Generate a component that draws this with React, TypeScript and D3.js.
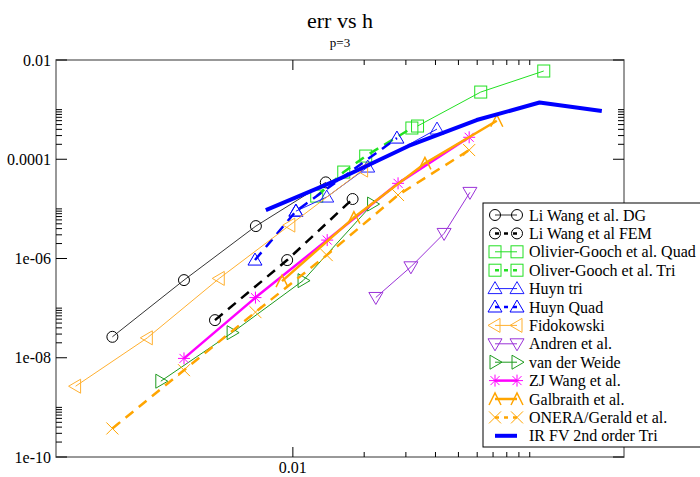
import React from "react";
import * as d3 from "d3";

const W = 700;
const H = 477;

const title = "err vs h";
const subtitle = "p=3";

const xDomain = [0.001, 0.25];
const yDomain = [1e-10, 0.01];
const xMajorTicks = [0.01];
const xMajorLabels = ["0.01"];
const xMinorTicks = [0.02, 0.03, 0.04, 0.05, 0.06, 0.07, 0.08, 0.09, 0.1];
const yMajorTicks = [1e-2, 1e-4, 1e-6, 1e-8, 1e-10];
const yMajorLabels = ["0.01", "0.0001", "1e-06", "1e-08", "1e-10"];
const yMinorBases = [1e-10, 1e-8, 1e-6, 1e-4];
const yMinorMult = [2, 3, 4, 5, 6, 7, 8, 9, 10];

// data: [h, err]
const liWangDG = [[0.00173, 2.64e-8], [0.00347, 3.67e-7], [0.00698, 4.5e-6], [0.01377, 3.42e-5]];
const liWangFEM = [[0.00469, 5.73e-8], [0.00946, 9.3e-7], [0.01787, 1.58e-5]];
const ogQuad = [[0.0336, 4.67e-4], [0.0621, 2.26e-3], [0.1146, 6.0e-3]];
const ogTri = [[0.01261, 1.81e-5], [0.0164, 5.52e-5], [0.0203, 1.16e-4], [0.0318, 4.26e-4]];
const huynTri = [[0.0103, 9.0e-6], [0.0139, 1.73e-5], [0.0207, 6.96e-5], [0.0406, 4.06e-4]];
const huynQuad = [[0.00692, 9.3e-7], [0.0103, 9.0e-6], [0.0275, 2.67e-4]];
const fidokowski = [[0.00121, 2.67e-9], [0.00243, 2.52e-8], [0.00489, 3.97e-7], [0.00971, 4.71e-6], [0.0197, 6.05e-5]];
const andren = [[0.0224, 1.64e-7], [0.0315, 6.8e-7], [0.0435, 3.2e-6], [0.0559, 2.15e-5]];
const vanDerWeide = [[0.00277, 3.37e-9], [0.00554, 3.2e-8], [0.01104, 3.58e-7], [0.0217, 1.25e-5]];
const zjWang = [[0.00347, 9.7e-9], [0.00695, 1.63e-7], [0.01396, 2.35e-6], [0.0278, 3.27e-5], [0.0555, 2.77e-4]];
const galbraith = [[0.009, 3.5e-7], [0.0181, 6.68e-6], [0.0361, 8.26e-5], [0.0726, 5.97e-4]];
const onera = [[0.00173, 3.76e-10], [0.00347, 5.62e-9], [0.00695, 8.3e-8], [0.0139, 1.17e-6], [0.0278, 1.9e-5], [0.0555, 1.53e-4]];
const irfv = [[0.00769, 9.46e-6], [0.01535, 3.81e-5], [0.0308, 1.85e-4], [0.0597, 6.17e-4], [0.110, 1.39e-3], [0.2015, 9.37e-4]];

type Series = {
  name: string;
  data: number[][];
  color: string;
  width: number;
  dash?: string;
  marker: string | null;
};

const series: Series[] = [
  { name: "Li Wang et al. DG", data: liWangDG, color: "#000000", width: 0.8, marker: "circle" },
  { name: "Li Wang et al FEM", data: liWangFEM, color: "#000000", width: 2.5, dash: "10,7", marker: "circle" },
  { name: "Olivier-Gooch et al. Quad", data: ogQuad, color: "#22e022", width: 1, marker: "square" },
  { name: "Oliver-Gooch et al. Tri", data: ogTri, color: "#22e022", width: 2.5, dash: "10,7", marker: "square" },
  { name: "Huyn tri", data: huynTri, color: "#2020ff", width: 1, marker: "triUp" },
  { name: "Huyn Quad", data: huynQuad, color: "#0000ff", width: 2.5, dash: "10,7", marker: "triUp" },
  { name: "Fidokowski", data: fidokowski, color: "#ffb030", width: 1, marker: "triLeft" },
  { name: "Andren et al.", data: andren, color: "#9a32d8", width: 1, marker: "triDown" },
  { name: "van der Weide", data: vanDerWeide, color: "#1e9a1e", width: 1, marker: "triRight" },
  { name: "ZJ Wang et al.", data: zjWang, color: "#ff00ff", width: 2.5, marker: "star" },
  { name: "Galbraith et al.", data: galbraith, color: "#ffa500", width: 2.5, marker: "caret" },
  { name: "ONERA/Gerald et al.", data: onera, color: "#ffa500", width: 2.5, dash: "10,7", marker: "cross" },
  { name: "IR FV 2nd order Tri", data: irfv, color: "#0000ff", width: 4, marker: null },
];

const plot = { left: 56, right: 624, top: 60, bottom: 457 };

const xScale = d3.scaleLog().domain(xDomain).range([plot.left, plot.right]);
const yScale = d3.scaleLog().domain(yDomain).range([plot.bottom, plot.top]);

const FONT = "Liberation Serif";

function Marker({ type, x, y, color }: { type: string; x: number; y: number; color: string }) {
  const s = 6;
  const common = { fill: "none", stroke: color, strokeWidth: 1 };
  switch (type) {
    case "circle":
      return <circle cx={x} cy={y} r={5.5} {...common} />;
    case "square":
      return <rect x={x - s} y={y - s} width={2 * s} height={2 * s} {...common} />;
    case "triUp":
      return <path d={`M${x},${y - 7}L${x + 7},${y + 5}L${x - 7},${y + 5}Z`} {...common} />;
    case "triDown":
      return <path d={`M${x},${y + 7}L${x + 7},${y - 5}L${x - 7},${y - 5}Z`} {...common} />;
    case "triLeft":
      return <path d={`M${x - 7},${y}L${x + 5},${y - 7}L${x + 5},${y + 7}Z`} {...common} />;
    case "triRight":
      return <path d={`M${x + 7},${y}L${x - 5},${y - 7}L${x - 5},${y + 7}Z`} {...common} />;
    case "star":
      return (
        <path
          d={`M${x - 6},${y}L${x + 6},${y}M${x},${y - 6}L${x},${y + 6}M${x - 4.5},${y - 4.5}L${x + 4.5},${y + 4.5}M${x - 4.5},${y + 4.5}L${x + 4.5},${y - 4.5}`}
          {...common}
        />
      );
    case "caret":
      return <path d={`M${x - 6},${y + 6}L${x},${y - 6}L${x + 6},${y + 6}`} {...common} strokeWidth={1.5} />;
    case "cross":
      return <path d={`M${x - 6},${y - 6}L${x + 6},${y + 6}M${x - 6},${y + 6}L${x + 6},${y - 6}`} {...common} />;
    default:
      return null;
  }
}

export default function App() {
  const line = d3
    .line<number[]>()
    .x((d) => xScale(d[0]))
    .y((d) => yScale(d[1]));

  const yMinor: number[] = [];
  yMinorBases.forEach((b) => yMinorMult.forEach((m) => yMinor.push(b * m)));

  const legend = { x: 483, y: 203, w: 240, h: 244 };
  const legendRowY = (i: number) => 215 + i * 18.4;

  return (
    <svg width={W} height={H} style={{ position: "absolute", left: 0, top: 0, background: "#fff" }}>
      <rect x={0} y={0} width={W} height={H} fill="#fff" />
      <text x={340} y={28} textAnchor="middle" fontSize={22} fontFamily={FONT}>{title}</text>
      <text x={340} y={47} textAnchor="middle" fontSize={13} fontFamily={FONT}>{subtitle}</text>

      {/* frame */}
      <rect x={plot.left} y={plot.top} width={plot.right - plot.left} height={plot.bottom - plot.top} fill="none" stroke="#777" strokeWidth={1.5} />

      {/* ticks */}
      {xMajorTicks.map((t, i) => (
        <g key={"xM" + i}>
          <line x1={xScale(t)} x2={xScale(t)} y1={plot.bottom} y2={plot.bottom - 10} stroke="#000" />
          <line x1={xScale(t)} x2={xScale(t)} y1={plot.top} y2={plot.top + 10} stroke="#000" />
          <text x={xScale(t)} y={473} textAnchor="middle" fontSize={16} fontFamily={FONT}>{xMajorLabels[i]}</text>
        </g>
      ))}
      {xMinorTicks.map((t, i) => (
        <g key={"xm" + i}>
          <line x1={xScale(t)} x2={xScale(t)} y1={plot.bottom} y2={plot.bottom - 5} stroke="#000" />
          <line x1={xScale(t)} x2={xScale(t)} y1={plot.top} y2={plot.top + 5} stroke="#000" />
        </g>
      ))}
      {yMajorTicks.map((t, i) => (
        <g key={"yM" + i}>
          <line x1={plot.left} x2={plot.left + 11} y1={yScale(t)} y2={yScale(t)} stroke="#000" />
          <line x1={plot.right} x2={plot.right - 11} y1={yScale(t)} y2={yScale(t)} stroke="#000" />
          <text x={51} y={yScale(t)} dy="0.35em" textAnchor="end" fontSize={16} fontFamily={FONT}>{yMajorLabels[i]}</text>
        </g>
      ))}
      {yMinor.map((t, i) => (
        <g key={"ym" + i}>
          <line x1={plot.left} x2={plot.left + 6} y1={yScale(t)} y2={yScale(t)} stroke="#000" />
          <line x1={plot.right} x2={plot.right - 6} y1={yScale(t)} y2={yScale(t)} stroke="#000" />
        </g>
      ))}

      {/* series */}
      {series.map((s, i) => (
        <g key={"s" + i}>
          <path d={line(s.data) || ""} fill="none" stroke={s.color} strokeWidth={s.width} strokeDasharray={s.dash} strokeLinejoin="round" />
          {s.marker &&
            s.data.map((d, j) => <Marker key={j} type={s.marker as string} x={xScale(d[0])} y={yScale(d[1])} color={s.color} />)}
        </g>
      ))}

      {/* legend */}
      <rect x={legend.x} y={legend.y} width={legend.w} height={legend.h} fill="#fff" stroke="#000" strokeWidth={1} />
      {series.map((s, i) => {
        const y = legendRowY(i);
        return (
          <g key={"l" + i}>
            <line x1={495} x2={517} y1={y} y2={y} stroke={s.color} strokeWidth={s.width} strokeDasharray={s.dash ? "4,5" : undefined} />
            {s.marker && <Marker type={s.marker} x={495} y={y} color={s.color} />}
            {s.marker && <Marker type={s.marker} x={517} y={y} color={s.color} />}
            <text x={529} y={y} dy="0.35em" fontSize={16} fontFamily={FONT}>{s.name}</text>
          </g>
        );
      })}
    </svg>
  );
}
